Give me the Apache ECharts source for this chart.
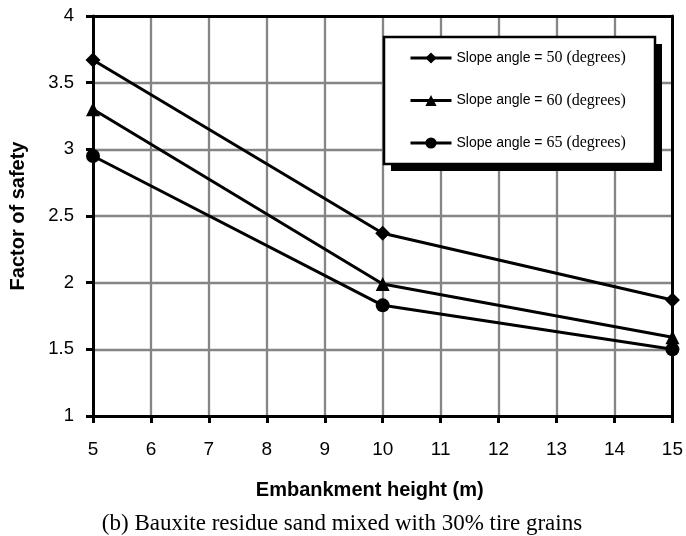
<!DOCTYPE html>
<html>
<head>
<meta charset="utf-8">
<script src="https://cdn.jsdelivr.net/npm/echarts@6/dist/echarts.min.js"></script>
<style>
  html, body { margin: 0; padding: 0; background: #fff; }
  #chart { width: 686px; height: 536px; }
</style>
</head>
<body>
<div id="chart"></div>
<script>
// embankment heights (m)
const heights = [5, 10, 15]
const angleLabels = ['50', '60', '65']
const fos50 = [3.67, 2.37, 1.87]
const fos60 = [3.30, 1.99, 1.59]
const fos65 = [2.95, 1.83, 1.50]
const symbols = ['diamond', 'triangle', 'circle']
const caption = '(b) Bauxite residue sand mixed with 30% tire grains'

const sans = '"Liberation Sans", Arial, sans-serif'
const serif = '"Liberation Serif", "Times New Roman", serif'

const chart = echarts.init(document.getElementById('chart'))

function makeSeries(idx, values) {
  return {
    name: angleLabels[idx],
    type: 'line',
    data: heights.map((h, i) => [h, values[i]]),
    symbol: symbols[idx],
    symbolSize: idx === 0 ? [15, 15] : 14,
    clip: false,
    z: 5,
    lineStyle: { color: '#000', width: 3 },
    itemStyle: { color: '#000' },
    emphasis: { disabled: true },
  }
}

// axis frame pieces (top / right), no labels
const frameAxis = (pos, min, max) => ({
  type: 'value', position: pos, min, max,
  axisLine: { show: true, lineStyle: { color: '#000', width: 3 } },
  axisTick: { show: false }, axisLabel: { show: false }, splitLine: { show: false },
})

chart.setOption({
  animation: false,
  title: {
    text: caption,
    left: 337,
    textAlign: 'center',
    top: 507,
    textStyle: { fontFamily: serif, fontSize: 23, fontWeight: 'normal', color: '#000' },
  },
  // legend box + hard shadow
  graphic: [
    { type: 'rect', z: 3, shape: { x: 391, y: 44, width: 271, height: 127 }, style: { fill: '#000' } },
    { type: 'rect', z: 3, shape: { x: 384, y: 37, width: 271, height: 127 }, style: { fill: '#fff', stroke: '#000', lineWidth: 2.5 } },
  ],
  legend: {
    orient: 'vertical',
    left: 384,
    top: 37,
    z: 6,
    padding: [13, 32, 14, 25],
    itemWidth: 41,
    itemHeight: 14,
    itemGap: 26.5,
    lineStyle: { width: 3 },
    formatter: (name) => `{a|Slope angle = }{b|${name} (degrees)}`,
    textStyle: {
      rich: {
        a: { fontFamily: sans, fontSize: 14, color: '#000' },
        b: { fontFamily: serif, fontSize: 16, color: '#000' },
      },
    },
  },
  grid: { left: 93, right: 11, top: 16, bottom: 120 },
  xAxis: [{
    type: 'value',
    min: 5,
    max: 15,
    interval: 1,
    name: 'Embankment height (m)',
    nameLocation: 'middle',
    nameGap: 64,
    nameTextStyle: { fontFamily: sans, fontSize: 20, fontWeight: 'bold', color: '#000', padding: [0, 26, 0, 0] },
    axisLine: { show: true, onZero: false, lineStyle: { color: '#000', width: 3 } },
    axisTick: { show: true, length: 7, lineStyle: { color: '#000', width: 3 } },
    axisLabel: { margin: 24, fontFamily: sans, fontSize: 19, color: '#000' },
    splitLine: { show: true, showMinLine: false, showMaxLine: false, lineStyle: { color: '#858585', width: 2.3 } },
  }, frameAxis('top', 5, 15)],
  yAxis: [{
    type: 'value',
    min: 1,
    max: 4,
    interval: 0.5,
    name: 'Factor of safety',
    nameLocation: 'middle',
    nameGap: 65,
    nameTextStyle: { fontFamily: sans, fontSize: 20, fontWeight: 'bold', color: '#000' },
    axisLine: { show: true, onZero: false, lineStyle: { color: '#000', width: 3 } },
    axisTick: { show: true, length: 7, lineStyle: { color: '#000', width: 3 } },
    axisLabel: { margin: 19, fontFamily: sans, fontSize: 18.5, color: '#000' },
    splitLine: { show: true, showMinLine: false, showMaxLine: false, lineStyle: { color: '#858585', width: 2.3 } },
  }, frameAxis('right', 1, 4)],
  series: [
    makeSeries(0, fos50),
    makeSeries(1, fos60),
    makeSeries(2, fos65),
  ],
})
</script>
</body>
</html>
